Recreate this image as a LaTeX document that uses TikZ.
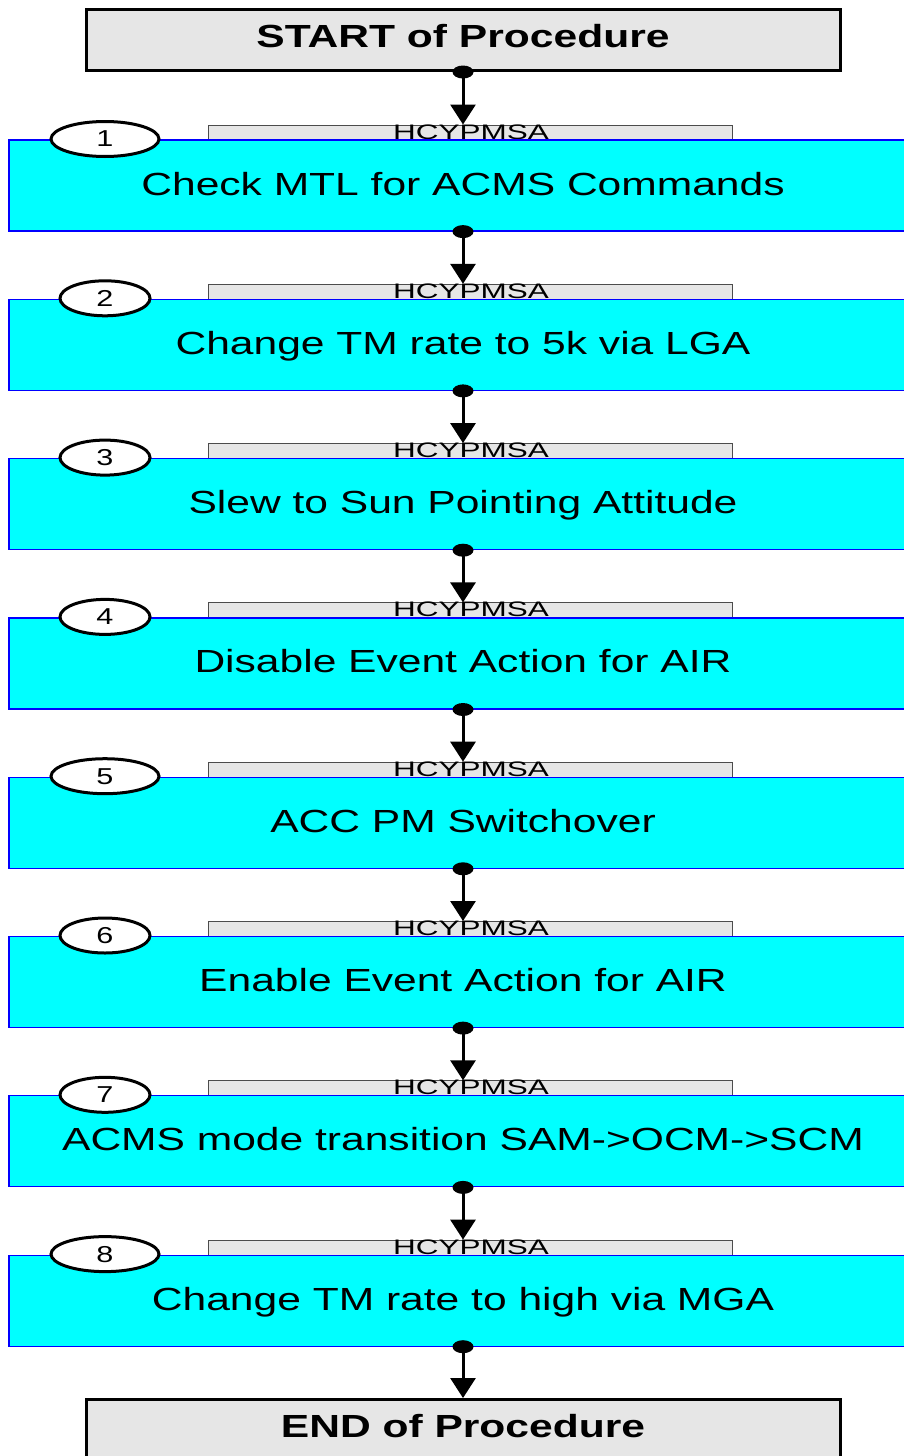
\documentclass[tikz,border=0pt]{standalone}
\usepackage{fontspec}
\setmainfont{Liberation Sans}
\newfontfamily\boxfont{Liberation Sans}[FakeStretch=1.33]
\newfontfamily\barfont{Liberation Sans}[FakeStretch=1.5]
\usetikzlibrary{arrows.meta,shapes.geometric}
\definecolor{boxgray}{RGB}{230,230,230}
\definecolor{stepcyan}{RGB}{0,255,255}

\tikzset{
  endbox/.style={draw=black, line width=3pt, fill=boxgray, minimum width=754pt,
    minimum height=61pt, inner sep=0pt, text height=23pt, text depth=8pt,
    font=\boxfont\bfseries\fontsize{32}{36}\selectfont},
  stepbox/.style={draw=blue, line width=1.2pt, fill=stepcyan, minimum width=908pt,
    minimum height=91pt, inner sep=0pt, text height=23pt, text depth=4pt,
    font=\boxfont\fontsize{32}{36}\selectfont},
  tagbar/.style={draw=black!70, line width=1pt, fill=boxgray, minimum width=524pt,
    minimum height=15pt, inner sep=0pt},
  tagtext/.style={font=\barfont\fontsize{21}{24}\selectfont, inner sep=0pt, anchor=base},
  numoval/.style={ellipse, draw=black, line width=3pt, fill=white, minimum height=35pt,
    inner sep=0pt, font=\boxfont\fontsize{23}{26}\selectfont},
  flow/.style={line width=3pt, -{Triangle[width=25pt,length=20pt]}},
  dot/.style={fill=black},
}

\begin{document}
\begin{tikzpicture}[x=1pt,y=-1pt]
    \useasboundingbox (0,0) rectangle (904,1456);
    \clip (0,0) rectangle (904,1456);

    % start and end of the procedure
    \node[endbox] (start) at (463,40) {START of Procedure};
    \node[endbox] (finish) at (463,1430) {END of Procedure};

    % the eight steps, each with its tag bar and number
    \foreach \n/\w/\txt in {
        1/108/Check MTL for ACMS Commands,
        2/90/Change TM rate to 5k via LGA,
        3/90/Slew to Sun Pointing Attitude,
        4/90/Disable Event Action for AIR,
        5/108/ACC PM Switchover,
        6/90/Enable Event Action for AIR,
        7/90/ACMS mode transition SAM->OCM->SCM,
        8/108/Change TM rate to high via MGA} {
        \pgfmathsetmacro\ytop{140+159.3*(\n-1)}
        \node[tagbar] (bar\n) at (470.5,\ytop-7.5) {};
        \node[tagtext] (tag\n) at (471,\ytop-1) {HCYPMSA};
        \node[stepbox] (step\n) at (463,\ytop+45.5) {\txt};
        \node[numoval, minimum width=\w pt] (num\n) at (105,\ytop-1) {\n};
    }

    % connectors
    \draw[flow] (start.south) -- (start.south |- bar1.north);
    \foreach \n [count=\m from 2] in {1,...,7}
        \draw[flow] (step\n.south) -- (step\n.south |- bar\m.north);
    \draw[flow] (step8.south) -- (finish.north);

    % dots where the connectors leave
    \fill[dot] (start.south) ellipse [x radius=10.5pt, y radius=6.5pt];
    \foreach \n in {1,...,8}
        \fill[dot] (step\n.south) ellipse [x radius=10.5pt, y radius=6.5pt];
\end{tikzpicture}
\end{document}
